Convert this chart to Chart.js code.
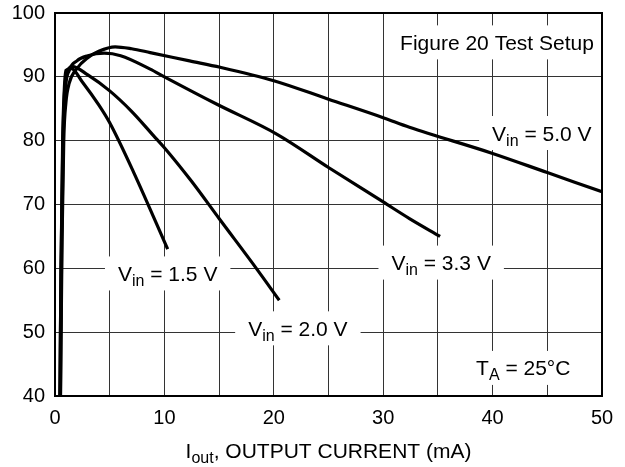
<!DOCTYPE html>
<html>
<head>
<meta charset="utf-8">
<script src="https://cdn.jsdelivr.net/npm/chart.js@4.4.1/dist/chart.umd.min.js"></script>
<style>
  html, body { margin: 0; padding: 0; background: #fff; }
</style>
</head>
<body>
<canvas id="myChart" width="625" height="467"></canvas>
<script>
// Efficiency (%) vs output current (mA), one curve per Vin
const vin15X = [0.45, 0.55, 0.7, 0.85, 1.0, 1.5, 2.5, 4, 5, 7.2, 10.3];
const vin15Y = [40, 60, 80, 88, 91, 91.3, 89.2, 85.6, 82.8, 75, 63];

const vin20X = [0.45, 0.55, 0.7, 0.85, 1.1, 1.6, 3, 5, 7, 9, 10, 12.5, 15, 18.4, 20.5];
const vin20Y = [40, 60, 78, 87, 90.5, 91.6, 90.3, 87.8, 84.6, 80.8, 78.9, 73.6, 67.8, 60, 55];

const vin33X = [0.5, 0.6, 0.75, 0.95, 1.3, 2, 3, 4.5, 6, 8.7, 10, 14.8, 20.3, 25, 30, 32.4, 35.2];
const vin33Y = [40, 62, 80, 88, 91, 92.5, 93.3, 93.7, 93.3, 91.2, 90, 85.7, 81, 75.8, 70.4, 67.8, 65];

const vin50X = [0.5, 0.65, 0.8, 1.0, 1.3, 2, 3, 4, 5.5, 7, 8.7, 12.3, 15.1, 20, 25, 30, 32.4, 40, 45, 50];
const vin50Y = [40, 65, 80, 86, 89, 91.3, 93, 94, 94.7, 94.4, 93.8, 92.5, 91.5, 89.4, 86.5, 83.6, 82.1, 78, 75, 72];

const xTicks = [0, 10, 20, 30, 40, 50];
const yTicks = [40, 50, 60, 70, 80, 90, 100];

const FONT = "'Liberation Sans', Arial, Helvetica, sans-serif";

function pts(xs, ys) {
  return xs.map((x, i) => ({ x: x, y: ys[i] }));
}

function curve(label, xs, ys) {
  return {
    label: label,
    data: pts(xs, ys),
    borderColor: "#000",
    borderWidth: 3.2,
    pointRadius: 0,
    fill: false,
    cubicInterpolationMode: "monotone",
  };
}

// text with subscript pieces: [text, isSub]
function partsWidth(ctx, parts, size) {
  let w = 0;
  parts.forEach((p) => {
    ctx.font = (p[1] ? Math.round(size * 0.75) : size) + "px " + FONT;
    w += ctx.measureText(p[0]).width;
  });
  return w;
}

function drawParts(ctx, parts, cx, cy, size) {
  const w = partsWidth(ctx, parts, size);
  let x = cx - w / 2;
  const base = cy + size * 0.36;
  ctx.textAlign = "left";
  ctx.textBaseline = "alphabetic";
  ctx.fillStyle = "#000";
  parts.forEach((p) => {
    ctx.font = (p[1] ? Math.round(size * 0.75) : size) + "px " + FONT;
    ctx.fillText(p[0], x, p[1] ? base + 5 : base);
    x += ctx.measureText(p[0]).width;
  });
  return w;
}

// boxed notes in the plot, placed in data units
const notes = [
  { parts: [["Figure 20 Test Setup"]], x: 40.4, y: 95.4 },
  { parts: [["V"], ["in", true], [" = 5.0 V"]], x: 44.5, y: 81.2 },
  { parts: [["V"], ["in", true], [" = 3.3 V"]], x: 35.3, y: 60.9 },
  { parts: [["V"], ["in", true], [" = 2.0 V"]], x: 22.2, y: 50.6 },
  { parts: [["V"], ["in", true], [" = 1.5 V"]], x: 10.3, y: 59.2 },
  { parts: [["T"], ["A", true], [" = 25°C"]], x: 42.8, y: 44.4 },
];

const notesPlugin = {
  id: "notes",
  beforeDatasetsDraw(chart) {
    const ctx = chart.ctx;
    const xs = chart.scales.x;
    const ys = chart.scales.y;
    const a = chart.chartArea;
    ctx.save();
    notes.forEach((n) => {
      const cx = xs.getPixelForValue(n.x);
      const cy = ys.getPixelForValue(n.y);
      const w = partsWidth(ctx, n.parts, 21);
      ctx.fillStyle = "#fff";
      ctx.fillRect(cx - w / 2 - 13, cy - 17, w + 26, 34);
      drawParts(ctx, n.parts, cx, cy, 21);
    });
    // frame
    ctx.strokeStyle = "#000";
    ctx.lineWidth = 2;
    ctx.strokeRect(a.left, a.top, a.right - a.left, a.bottom - a.top);
    ctx.restore();
  },
  afterDraw(chart) {
    const ctx = chart.ctx;
    const a = chart.chartArea;
    ctx.save();
    drawParts(ctx, [["I"], ["out", true], [", OUTPUT CURRENT (mA)"]], (a.left + a.right) / 2, 450, 21);
    ctx.restore();
  },
};

const ctx = document.getElementById("myChart");
window.myChart = new Chart(ctx, {
  type: "line",
  data: {
    datasets: [
      curve("Vin = 1.5 V", vin15X, vin15Y),
      curve("Vin = 2.0 V", vin20X, vin20Y),
      curve("Vin = 3.3 V", vin33X, vin33Y),
      curve("Vin = 5.0 V", vin50X, vin50Y),
    ],
  },
  options: {
    responsive: false,
    animation: false,
    layout: { padding: { top: 13, right: 23, bottom: 0, left: 0 } },
    plugins: { legend: { display: false }, tooltip: { enabled: false } },
    scales: {
      x: {
        type: "linear",
        min: 0,
        max: 50,
        afterFit(s) {
          s.height = 71;
          s.paddingLeft = 0;
          s.paddingRight = 0;
        },
        afterBuildTicks(s) {
          const t = [];
          for (let v = 0; v <= 50; v += 5) t.push({ value: v });
          s.ticks = t;
        },
        ticks: {
          autoSkip: false,
          maxRotation: 0,
          padding: 10,
          color: "#000",
          font: { family: FONT, size: 20 },
          callback: (v) => (xTicks.includes(v) ? String(v) : ""),
        },
        grid: { color: "#333", lineWidth: 1, drawTicks: false },
        border: { display: true, color: "#000", width: 2 },
      },
      y: {
        min: 40,
        max: 100,
        afterFit(s) {
          s.width = 55;
          s.paddingTop = 0;
          s.paddingBottom = 0;
        },
        afterBuildTicks(s) {
          s.ticks = yTicks.map((v) => ({ value: v }));
        },
        ticks: {
          padding: 10,
          color: "#000",
          font: { family: FONT, size: 20 },
        },
        grid: { color: "#333", lineWidth: 1, drawTicks: false },
        border: { display: true, color: "#000", width: 2 },
      },
    },
  },
  plugins: [notesPlugin],
});
</script>
</body>
</html>
